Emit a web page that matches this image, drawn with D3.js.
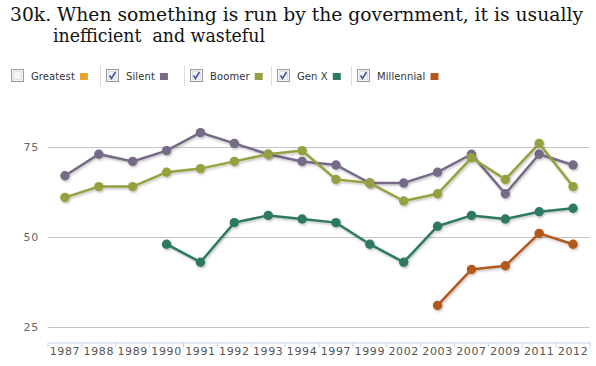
<!DOCTYPE html>
<html><head><meta charset="utf-8">
<script src="https://cdn.jsdelivr.net/npm/d3@7"></script>
<style>
body{margin:0;background:#fff;}
svg{display:block;}
</style></head><body>
<svg id="c" width="596" height="366"></svg>
<script>
const years = ["1987","1988","1989","1990","1991","1992","1993","1994","1997","1999","2002","2003","2007","2009","2011","2012"];
const silent = [67,73,71,74,79,76,73,71,70,65,65,68,73,62,73,70];
const boomer = [61,64,64,68,69,71,73,74,66,65,60,62,72,66,76,64];
const genX = [null,null,null,48,43,54,56,55,54,48,43,53,56,55,57,58];
const millennial = [null,null,null,null,null,null,null,null,null,null,null,31,41,42,51,48];
const yTicks = [25,50,75];
const legendNames = ["Greatest","Silent","Boomer","Gen X","Millennial"];
const legendChecked = [false,true,true,true,true];
const colors = {Greatest:"#eba22b",Silent:"#776a87",Boomer:"#97a040","Gen X":"#2e7963",Millennial:"#b3591f"};
const titleLines = ["30k. When something is run by the government, it is usually","inefficient  and wasteful"];

const svg = d3.select("#c");
const defs = svg.append("defs");
const f = defs.append("filter").attr("id","sh").attr("x","-20%").attr("y","-20%").attr("width","140%").attr("height","140%");
f.append("feDropShadow").attr("dx",1).attr("dy",1.5).attr("stdDeviation",1).attr("flood-color","#000").attr("flood-opacity",0.25);

// title
svg.append("text").attr("x",10).attr("y",21).attr("font-family","Georgia, 'DejaVu Serif', serif").attr("font-size",18).attr("fill","#111")
  .attr("textLength",573).attr("lengthAdjust","spacingAndGlyphs").text(titleLines[0]);
svg.append("text").attr("x",53).attr("y",42).attr("font-family","Georgia, 'DejaVu Serif', serif").attr("font-size",18).attr("fill","#111")
  .attr("xml:space","preserve").attr("textLength",212).attr("lengthAdjust","spacingAndGlyphs").text(titleLines[1]);

// legend
const lg = svg.append("g").attr("font-family","'DejaVu Sans', Verdana, sans-serif").attr("font-size",10).attr("fill","#333");
const legendX = [11,106,190,277,357];
legendNames.forEach((n,i)=>{
  const x = legendX[i];
  const g = lg.append("g").attr("transform",`translate(${x},69)`);
  g.append("rect").attr("x",0.5).attr("y",0.5).attr("width",12).attr("height",12).attr("fill","#f4f4f4").attr("stroke","#9a9a9a");
  g.append("rect").attr("x",2.5).attr("y",2.5).attr("width",8).attr("height",8).attr("fill","none").attr("stroke","#e0e0e0");
  if(legendChecked[i]){
    g.append("path").attr("d","M3.5,6.5 L5.5,9.5 L9.5,3").attr("fill","none").attr("stroke","#3b5aa8").attr("stroke-width",1.6);
  }
  const t = g.append("text").attr("x",20).attr("y",10.5).attr("letter-spacing",0.1).text(n);
  const w = t.node().getComputedTextLength();
  g.append("rect").attr("x",20+w+5).attr("y",4).attr("width",8).attr("height",7).attr("fill",colors[n]);
  if(i<legendNames.length-1){
    lg.append("line").attr("x1",legendX[i+1]-5.5).attr("x2",legendX[i+1]-5.5).attr("y1",66).attr("y2",86).attr("stroke","#ddd");
  }
});

// scales
const x = d3.scaleBand().domain(years).range([48,590]);
const y = d3.scaleLinear().domain([25,75]).range([327,147]);

// grid
svg.append("g").selectAll("line").data(yTicks).join("line")
  .attr("x1",48).attr("x2",590).attr("y1",d=>y(d)+0.5).attr("y2",d=>y(d)+0.5).attr("stroke","#c6c6c6");
svg.append("g").selectAll("text").data(yTicks).join("text")
  .attr("x",39).attr("y",d=>y(d)+4).attr("text-anchor","end").attr("font-family","'DejaVu Sans', Verdana, sans-serif")
  .attr("font-size",11).attr("fill","#666").attr("letter-spacing",0.8).text(d=>d);

// x axis
const xa = svg.append("g").attr("transform","translate(0,342.5)")
  .call(d3.axisBottom(x).tickSize(0).tickPadding(5));
xa.select(".domain").attr("stroke","#c5d3e2");
xa.selectAll("text").attr("font-family","'DejaVu Sans', Verdana, sans-serif").attr("font-size",11).attr("fill","#555").attr("letter-spacing",0.6);
xa.selectAll(".sep").data(years.concat(["end"])).join("line").attr("class","sep")
  .attr("x1",(d,i)=>i<years.length?x(d):590).attr("x2",(d,i)=>i<years.length?x(d):590)
  .attr("y1",0).attr("y2",5).attr("stroke","#c5d3e2");

// series
const series = [["Silent",silent],["Boomer",boomer],["Gen X",genX],["Millennial",millennial]];
const line = d3.line().defined(d=>d.v!=null).x(d=>x(d.k)+x.bandwidth()/2).y(d=>y(d.v));
series.forEach(([n,vals])=>{
  const data = years.map((k,i)=>({k,v:vals[i]}));
  const g = svg.append("g").attr("filter","url(#sh)");
  g.append("path").datum(data).attr("d",line).attr("fill","none").attr("stroke",colors[n]).attr("stroke-width",2.5);
  g.selectAll("circle").data(data.filter(d=>d.v!=null)).join("circle")
    .attr("cx",d=>x(d.k)+x.bandwidth()/2).attr("cy",d=>y(d.v)).attr("r",4.7).attr("fill",colors[n]);
});
</script></body></html>
